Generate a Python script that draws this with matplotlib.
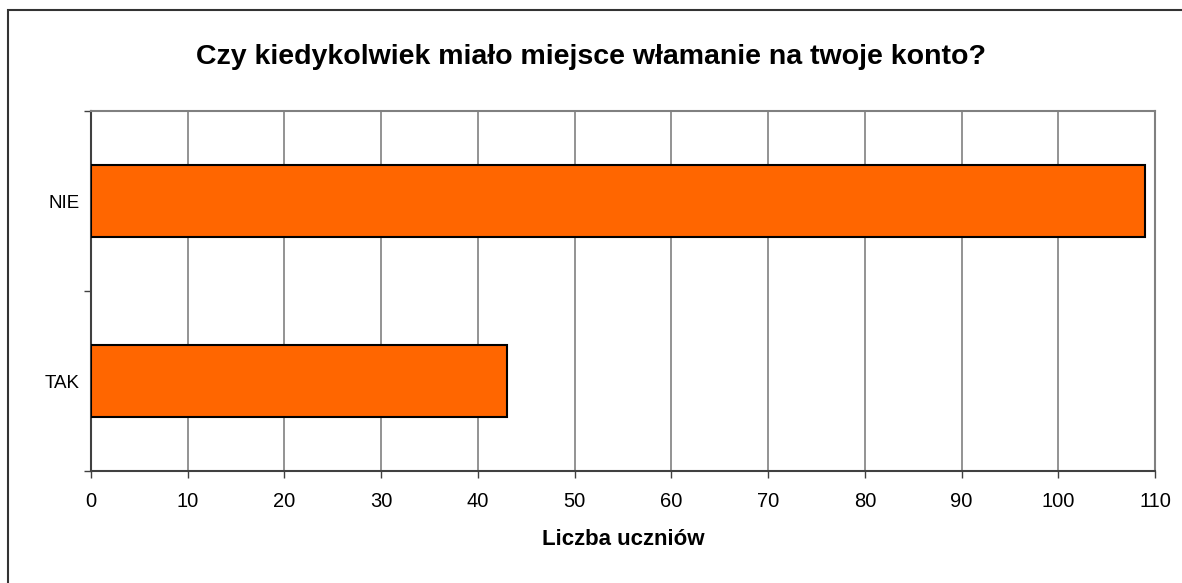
import matplotlib.pyplot as plt
from matplotlib.patches import Rectangle

# Data
categories = ['TAK', 'NIE']
counts = [43, 109]

plt.rcParams['font.family'] = ['Liberation Sans', 'DejaVu Sans']

fig = plt.figure(figsize=(11.82, 5.83), dpi=100)
ax = fig.add_axes([91 / 1182, 1 - 471 / 583, 1064 / 1182, 360 / 583])

ypos = range(len(categories))
ax.barh(ypos, counts, height=0.4, color='#FF6600', edgecolor='black',
        linewidth=1.5, zorder=3)

ax.set_xlim(0, 110)
ax.set_ylim(-0.5, 1.5)
ax.set_xticks(range(0, 111, 10))
ax.tick_params(axis='x', labelsize=14.5, length=5, width=1, color='#404040', pad=10)
ax.set_yticks(list(ypos), categories)
ax.tick_params(axis='y', which='major', labelsize=13.5, length=0, pad=8)
ax.set_yticks([-0.5, 0.5, 1.5], minor=True)
ax.tick_params(axis='y', which='minor', length=5, width=1, color='#404040')

ax.grid(axis='x', color='#808080', linewidth=1.2, zorder=0)
ax.set_axisbelow(True)
for side in ['left', 'bottom']:
    ax.spines[side].set_color('#404040')
    ax.spines[side].set_linewidth(1.5)
for side in ['top', 'right']:
    ax.spines[side].set_color('#808080')
    ax.spines[side].set_linewidth(1.5)

ax.set_xlabel('Liczba uczniów', fontsize=16, fontweight='bold', labelpad=13)
fig.text(0.5, 1 - 57 / 583, 'Czy kiedykolwiek miało miejsce włamanie na twoje konto?',
         ha='center', va='center', fontsize=20.5, fontweight='bold')

# outer chart border (cut off at right and bottom)
fig.patches.append(Rectangle((8 / 1182, -0.1), 1.2, 1 - 10 / 583 + 0.1,
                             transform=fig.transFigure, fill=False,
                             edgecolor='#333333', linewidth=1.5))

fig.savefig('out.png', dpi=100)
